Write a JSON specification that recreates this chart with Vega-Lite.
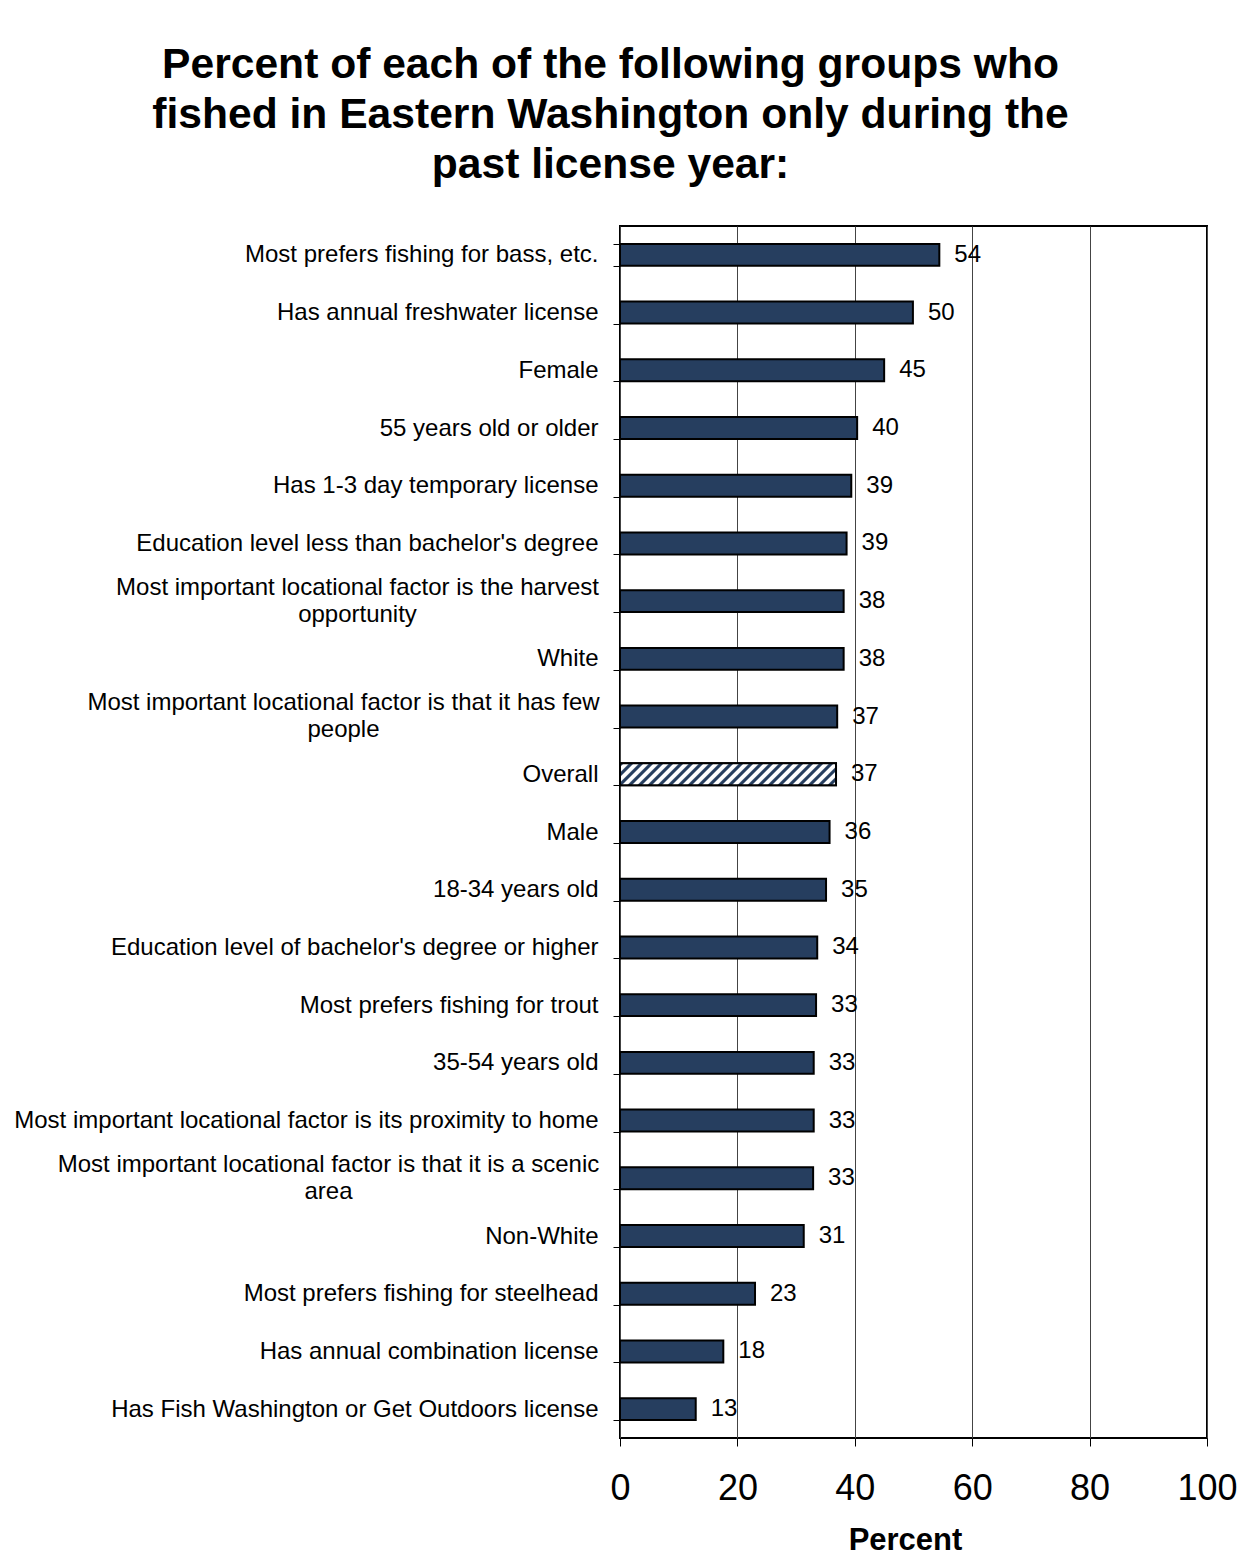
{
  "$schema": "https://vega.github.io/schema/vega-lite/v6.json",
  "width": 587,
  "height": 1212,
  "autosize": {"type": "none"},
  "padding": {"left": 620, "top": 226, "right": 49, "bottom": 117},
  "background": "white",
  "title": {
    "text": ["Percent of each of the following groups who", "fished in Eastern Washington only during the", "past license year:"],
    "font": "Liberation Sans",
    "fontSize": 42.6,
    "fontWeight": "bold",
    "lineHeight": 50,
    "color": "black",
    "anchor": "middle",
    "dx": -303,
    "offset": 27
  },
  "data": {
    "values": [
      {"group": "Most prefers fishing for bass, etc.", "pct": 54.4},
      {"group": "Has annual freshwater license", "pct": 49.9},
      {"group": "Female", "pct": 45.0},
      {"group": "55 years old or older", "pct": 40.4},
      {"group": "Has 1-3 day temporary license", "pct": 39.4},
      {"group": "Education level less than bachelor's degree", "pct": 38.6},
      {"group": "Most important locational factor is the harvest|opportunity", "pct": 38.1},
      {"group": "White", "pct": 38.1},
      {"group": "Most important locational factor is that it has few|people", "pct": 37.0},
      {"group": "Overall", "pct": 36.8},
      {"group": "Male", "pct": 35.7},
      {"group": "18-34 years old", "pct": 35.1},
      {"group": "Education level of bachelor's degree or higher", "pct": 33.6},
      {"group": "Most prefers fishing for trout", "pct": 33.4},
      {"group": "35-54 years old", "pct": 33.0},
      {"group": "Most important locational factor is its proximity to home", "pct": 33.0},
      {"group": "Most important locational factor is that it is a scenic|area", "pct": 32.9},
      {"group": "Non-White", "pct": 31.3},
      {"group": "Most prefers fishing for steelhead", "pct": 23.0},
      {"group": "Has annual combination license", "pct": 17.6},
      {"group": "Has Fish Washington or Get Outdoors license", "pct": 12.9}
    ]
  },
  "encoding": {
    "y": {
      "field": "group",
      "type": "nominal",
      "sort": null,
      "scale": {"paddingInner": 0.62, "paddingOuter": 0.31},
      "axis": {
        "title": null,
        "domain": false,
        "grid": false,
        "ticks": true,
        "tickBand": "extent",
        "tickSize": 7,
        "tickColor": "black",
        "tickWidth": 1,
        "labelFont": "Liberation Sans",
        "labelFontSize": 24,
        "labelColor": "black",
        "labelLimit": 0,
        "labelLineHeight": 27,
        "labelBaseline": {
          "condition": {"test": "indexof(datum.label + '', '|') >= 0", "value": "line-bottom"},
          "value": "middle"
        },
        "labelAlign": {
          "condition": {"test": "indexof(datum.label + '', '|') >= 0", "value": "center"},
          "value": "right"
        },
        "labelPadding": {
          "condition": [
            {"test": "indexof(datum.label + '', 'harvest|') >= 0", "value": 256},
            {"test": "indexof(datum.label + '', 'few|') >= 0", "value": 270},
            {"test": "indexof(datum.label + '', 'scenic|') >= 0", "value": 285}
          ],
          "value": 15
        },
        "labelExpr": "indexof(datum.label + '', '|') < 0 ? datum.label : split(datum.label, '|')"
      }
    },
    "x": {
      "field": "pct",
      "type": "quantitative",
      "scale": {"domain": [0, 100], "nice": false},
      "axis": {
        "title": "Percent",
        "values": [0, 20, 40, 60, 80, 100],
        "domain": false,
        "grid": true,
        "gridColor": "#444444",
        "gridWidth": 1,
        "tickSize": 8,
        "tickColor": "black",
        "labelFont": "Liberation Sans",
        "labelFontSize": 36,
        "labelColor": "black",
        "labelPadding": 25,
        "labelFlush": false,
        "titleFont": "Liberation Sans",
        "titleFontSize": 31,
        "titleFontWeight": "bold",
        "titleColor": "black",
        "titlePadding": 19,
        "titleX": 285
      }
    }
  },
  "layer": [
    {
      "mark": {"type": "bar", "stroke": "black", "strokeWidth": 2, "fill": "#263E5F"}
    },
    {
      "transform": [{"filter": "datum.group == 'Overall'"}],
      "mark": {
        "type": "bar", "stroke": "black", "strokeWidth": 2,
        "fill": {
          "gradient": "linear",
          "x1": 0, "y1": 0, "x2": 1.1, "y2": 0.1121,
          "stops": [
            {"offset": 0, "color": "#263E5F"}, {"offset": 0.0125, "color": "#263E5F"}, {"offset": 0.01875, "color": "#ffffff"}, {"offset": 0.03542, "color": "#ffffff"},
            {"offset": 0.04167, "color": "#263E5F"}, {"offset": 0.05417, "color": "#263E5F"}, {"offset": 0.06042, "color": "#ffffff"}, {"offset": 0.07708, "color": "#ffffff"},
            {"offset": 0.08333, "color": "#263E5F"}, {"offset": 0.09583, "color": "#263E5F"}, {"offset": 0.10208, "color": "#ffffff"}, {"offset": 0.11875, "color": "#ffffff"},
            {"offset": 0.125, "color": "#263E5F"}, {"offset": 0.1375, "color": "#263E5F"}, {"offset": 0.14375, "color": "#ffffff"}, {"offset": 0.16042, "color": "#ffffff"},
            {"offset": 0.16667, "color": "#263E5F"}, {"offset": 0.17917, "color": "#263E5F"}, {"offset": 0.18542, "color": "#ffffff"}, {"offset": 0.20208, "color": "#ffffff"},
            {"offset": 0.20833, "color": "#263E5F"}, {"offset": 0.22083, "color": "#263E5F"}, {"offset": 0.22708, "color": "#ffffff"}, {"offset": 0.24375, "color": "#ffffff"},
            {"offset": 0.25, "color": "#263E5F"}, {"offset": 0.2625, "color": "#263E5F"}, {"offset": 0.26875, "color": "#ffffff"}, {"offset": 0.28542, "color": "#ffffff"},
            {"offset": 0.29167, "color": "#263E5F"}, {"offset": 0.30417, "color": "#263E5F"}, {"offset": 0.31042, "color": "#ffffff"}, {"offset": 0.32708, "color": "#ffffff"},
            {"offset": 0.33333, "color": "#263E5F"}, {"offset": 0.34583, "color": "#263E5F"}, {"offset": 0.35208, "color": "#ffffff"}, {"offset": 0.36875, "color": "#ffffff"},
            {"offset": 0.375, "color": "#263E5F"}, {"offset": 0.3875, "color": "#263E5F"}, {"offset": 0.39375, "color": "#ffffff"}, {"offset": 0.41042, "color": "#ffffff"},
            {"offset": 0.41667, "color": "#263E5F"}, {"offset": 0.42917, "color": "#263E5F"}, {"offset": 0.43542, "color": "#ffffff"}, {"offset": 0.45208, "color": "#ffffff"},
            {"offset": 0.45833, "color": "#263E5F"}, {"offset": 0.47083, "color": "#263E5F"}, {"offset": 0.47708, "color": "#ffffff"}, {"offset": 0.49375, "color": "#ffffff"},
            {"offset": 0.5, "color": "#263E5F"}, {"offset": 0.5125, "color": "#263E5F"}, {"offset": 0.51875, "color": "#ffffff"}, {"offset": 0.53542, "color": "#ffffff"},
            {"offset": 0.54167, "color": "#263E5F"}, {"offset": 0.55417, "color": "#263E5F"}, {"offset": 0.56042, "color": "#ffffff"}, {"offset": 0.57708, "color": "#ffffff"},
            {"offset": 0.58333, "color": "#263E5F"}, {"offset": 0.59583, "color": "#263E5F"}, {"offset": 0.60208, "color": "#ffffff"}, {"offset": 0.61875, "color": "#ffffff"},
            {"offset": 0.625, "color": "#263E5F"}, {"offset": 0.6375, "color": "#263E5F"}, {"offset": 0.64375, "color": "#ffffff"}, {"offset": 0.66042, "color": "#ffffff"},
            {"offset": 0.66667, "color": "#263E5F"}, {"offset": 0.67917, "color": "#263E5F"}, {"offset": 0.68542, "color": "#ffffff"}, {"offset": 0.70208, "color": "#ffffff"},
            {"offset": 0.70833, "color": "#263E5F"}, {"offset": 0.72083, "color": "#263E5F"}, {"offset": 0.72708, "color": "#ffffff"}, {"offset": 0.74375, "color": "#ffffff"},
            {"offset": 0.75, "color": "#263E5F"}, {"offset": 0.7625, "color": "#263E5F"}, {"offset": 0.76875, "color": "#ffffff"}, {"offset": 0.78542, "color": "#ffffff"},
            {"offset": 0.79167, "color": "#263E5F"}, {"offset": 0.80417, "color": "#263E5F"}, {"offset": 0.81042, "color": "#ffffff"}, {"offset": 0.82708, "color": "#ffffff"},
            {"offset": 0.83333, "color": "#263E5F"}, {"offset": 0.84583, "color": "#263E5F"}, {"offset": 0.85208, "color": "#ffffff"}, {"offset": 0.86875, "color": "#ffffff"},
            {"offset": 0.875, "color": "#263E5F"}, {"offset": 0.8875, "color": "#263E5F"}, {"offset": 0.89375, "color": "#ffffff"}, {"offset": 0.91042, "color": "#ffffff"},
            {"offset": 0.91667, "color": "#263E5F"}, {"offset": 0.92917, "color": "#263E5F"}, {"offset": 0.93542, "color": "#ffffff"}, {"offset": 0.95208, "color": "#ffffff"},
            {"offset": 0.95833, "color": "#263E5F"}, {"offset": 0.97083, "color": "#263E5F"}, {"offset": 0.97708, "color": "#ffffff"}, {"offset": 0.99375, "color": "#ffffff"},
            {"offset": 1, "color": "#263E5F"}
          ]
        }
      }
    },
    {
      "mark": {"type": "text", "align": "left", "baseline": "middle", "dx": 15, "font": "Liberation Sans", "fontSize": 24, "color": "black"},
      "encoding": {
        "text": {"field": "pct", "type": "quantitative", "format": ".0f"}
      }
    }
  ],
  "config": {
    "view": {"stroke": "black", "strokeWidth": 2}
  }
}
